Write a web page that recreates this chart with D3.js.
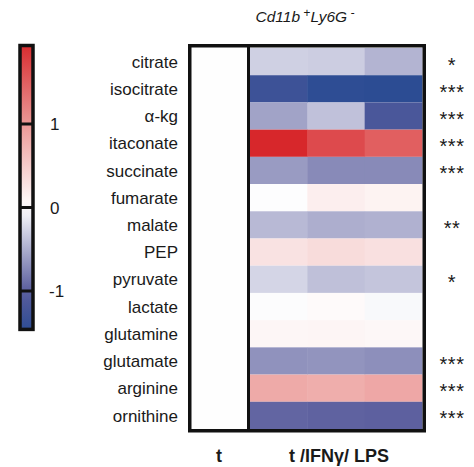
<!DOCTYPE html>
<html>
<head>
<meta charset="utf-8">
<script src="https://cdn.jsdelivr.net/npm/d3@7"></script>
<style>
  body { margin: 0; background: #fff; }
  svg text { font-family: "Liberation Sans", Arial, Helvetica, sans-serif; fill: #1a1a1a; }
</style>
</head>
<body>
<script>
const rows = ["citrate", "isocitrate", "α-kg", "itaconate", "succinate", "fumarate", "malate",
  "PEP", "pyruvate", "lactate", "glutamine", "glutamate", "arginine", "ornithine"];
// control column (t), log-scaled fold vs control
const control_vals = [0, 0, 0, 0, 0, 0, 0, 0, 0, 0, 0, 0, 0, 0];
// t /IFNγ/ LPS, three replicates per metabolite
const rep1 = [-0.29, -1.31, -0.57, 1.99, -0.62, -0.01, -0.43, 0.28, -0.26, -0.02, 0.09, -0.67, 0.83, -0.95];
const rep2 = [-0.31, -1.47, -0.38, 1.68, -0.72, 0.165, -0.50, 0.34, -0.39, 0.05, 0.10, -0.66, 0.79, -0.97];
const rep3 = [-0.46, -1.49, -1.17, 1.50, -0.72, 0.12, -0.48, 0.30, -0.36, -0.04, 0.08, -0.69, 0.85, -0.98];
const stars = ["*", "***", "***", "***", "***", "", "**", "", "*", "", "", "***", "***", "***"];
const groups = ["t", "t /IFNγ/ LPS"];
const cb_ticks = [-1, 0, 1];
const cb_extent = [-1.46, 1.94];

const _width = 474;
const _height = 467;
const box_left = 189.75, box_top = 45.75, box_right = 424.25, box_bottom = 430.75;
const divider_x = 248.5;

const color = d3.scaleLinear()
  .domain([-1.5, -1, 0, 1, 2])
  .range(["#2b4c93", "#5a5d9d", "#ffffff", "#eb9896", "#d7262a"])
  .clamp(true);

const svg = d3.select('body').append('svg')
  .attr('width', _width)
  .attr('height', _height);

const y = d3.scaleBand().domain(rows).range([48, 429]);
const x_rep = d3.scaleBand().domain([0, 1, 2]).range([250, 422]);
const x_grp = d3.scalePoint().domain(groups).range([219, 339]);

// control column
svg.append('g').selectAll('rect')
  .data(control_vals)
  .join('rect')
  .attr('x', 191)
  .attr('y', (d, i) => y(rows[i]))
  .attr('width', divider_x - 191)
  .attr('height', y.bandwidth() + 0.5)
  .attr('fill', d => d3.color(color(d)).darker(0.01));

// treated replicates
const reps = [rep1, rep2, rep3];
const cells = [];
reps.forEach((r, j) => r.forEach((v, i) => cells.push({ row: rows[i], rep: j, v: v })));
svg.append('g').selectAll('rect')
  .data(cells)
  .join('rect')
  .attr('x', d => x_rep(d.rep))
  .attr('y', d => y(d.row))
  .attr('width', x_rep.bandwidth() + 0.5)
  .attr('height', y.bandwidth())
  .attr('fill', d => color(d.v));

// frame
svg.append('rect')
  .attr('x', box_left).attr('y', box_top)
  .attr('width', box_right - box_left).attr('height', box_bottom - box_top)
  .attr('fill', 'none').attr('stroke', '#111').attr('stroke-width', 3.5);
svg.append('line')
  .attr('x1', divider_x).attr('x2', divider_x)
  .attr('y1', box_top).attr('y2', box_bottom)
  .attr('stroke', '#111').attr('stroke-width', 3);

// row labels
svg.append('g').selectAll('text')
  .data(rows)
  .join('text')
  .attr('x', 178)
  .attr('y', d => y(d) + y.bandwidth() / 2)
  .attr('dy', '0.36em')
  .attr('text-anchor', 'end')
  .style('font-size', '17px')
  .text(d => d);

// significance stars
svg.append('g').selectAll('text')
  .data(stars)
  .join('text')
  .attr('x', 452)
  .attr('y', (d, i) => y(rows[i]) + y.bandwidth() / 2)
  .attr('dy', '0.5em')
  .attr('text-anchor', 'middle')
  .style('font-size', '20px')
  .style('letter-spacing', '0.5px')
  .text(d => d);

// group labels
svg.append('g').selectAll('text')
  .data(groups)
  .join('text')
  .attr('x', d => x_grp(d))
  .attr('y', 462)
  .attr('text-anchor', 'middle')
  .style('font-size', '18px')
  .style('font-weight', 'bold')
  .text(d => d);

// title
const title = svg.append('text')
  .attr('x', 305)
  .attr('y', 22)
  .attr('text-anchor', 'middle')
  .style('font-size', '15.5px')
  .style('font-style', 'italic');
title.append('tspan').text('Cd11b');
title.append('tspan').attr('dy', -5).style('font-size', '12px').text(' +');
title.append('tspan').attr('dy', 5).text('Ly6G');
title.append('tspan').attr('dy', -5).style('font-size', '12px').text(' -');

// colour bar
const cb_y = d3.scaleLinear().domain([-1, 1]).range([291, 124]);
const cb_x = 20, cb_w = 13;
const defs = svg.append('defs');
const grad = defs.append('linearGradient')
  .attr('id', 'cb_grad')
  .attr('x1', 0).attr('x2', 0)
  .attr('y1', 1).attr('y2', 0);
const stops = d3.range(0, 1.0001, 0.05);
grad.selectAll('stop')
  .data(stops)
  .join('stop')
  .attr('offset', d => d)
  .attr('stop-color', d => color(cb_extent[0] + d * (cb_extent[1] - cb_extent[0])));

svg.append('rect')
  .attr('x', cb_x).attr('y', cb_y(cb_extent[1]))
  .attr('width', cb_w).attr('height', cb_y(cb_extent[0]) - cb_y(cb_extent[1]))
  .attr('fill', 'url(#cb_grad)')
  .attr('stroke', '#111').attr('stroke-width', 3.5);

svg.append('g').selectAll('line')
  .data(cb_ticks)
  .join('line')
  .attr('x1', cb_x).attr('x2', cb_x + cb_w)
  .attr('y1', d => cb_y(d)).attr('y2', d => cb_y(d))
  .attr('stroke', '#111').attr('stroke-width', 3);

svg.append('g').selectAll('text')
  .data(cb_ticks)
  .join('text')
  .attr('x', d => d < 0 ? 49 : 50)
  .attr('y', d => cb_y(d))
  .attr('dy', '0.36em')
  .style('font-size', '17px')
  .text(d => d);
</script>
</body>
</html>
